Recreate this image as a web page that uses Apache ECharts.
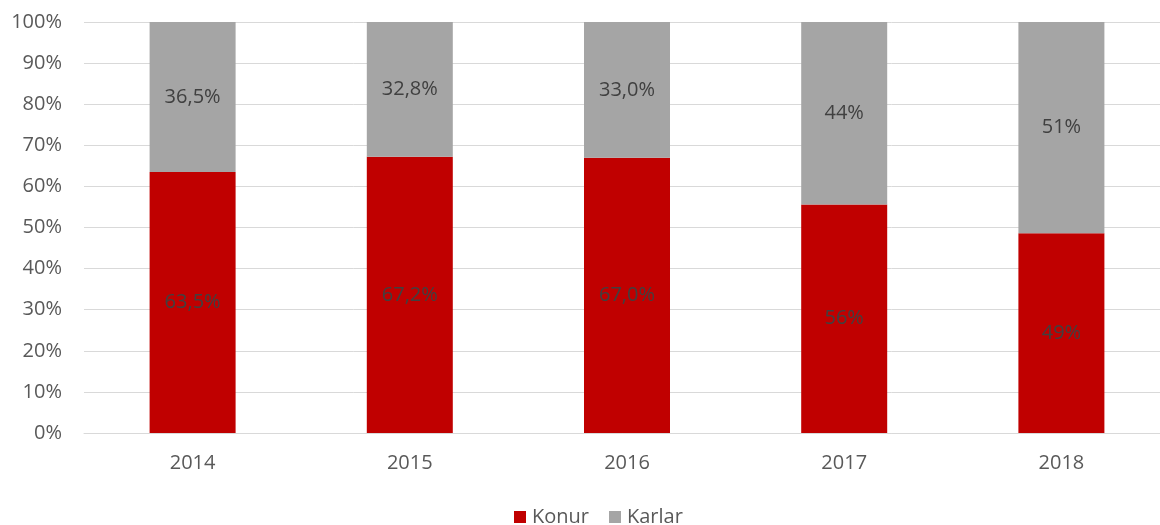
<!DOCTYPE html>
<html>
<head>
<meta charset="utf-8">
<script src="https://cdn.jsdelivr.net/npm/echarts@6/dist/echarts.min.js"></script>
<style>
  html, body { margin: 0; padding: 0; background: #fff; }
  #chart { width: 1160px; height: 525px; }
</style>
</head>
<body>
<div id="chart"></div>
<script>
// data
var years = ['2014', '2015', '2016', '2017', '2018']
var konur = [63.5, 67.2, 67.0, 55.6, 48.6]
var karlar = [36.5, 32.8, 33.0, 44.4, 51.4]
// decimals shown in each year's labels
var labelDecimals = [1, 1, 1, 0, 0]

var myChart = echarts.init(document.getElementById('chart'))

function pct(p) {
  return p.value.toFixed(labelDecimals[p.dataIndex]).replace('.', ',') + '%'
}

var font = '"Open Sans", "Noto Sans", sans-serif'

var option = {
  animation: false,
  textStyle: { fontFamily: font },
  grid: {
    left: 84,
    top: 22,
    width: 1086,
    height: 411,
    containLabel: false,
    outerBoundsMode: 'none'
  },
  legend: {
    top: 502,
    left: 509,
    itemWidth: 12,
    itemHeight: 12,
    itemGap: 20,
    icon: 'rect',
    textStyle: { color: '#595959', fontSize: 20, fontFamily: font, padding: [0, 0, 0, 1] },
    data: ['Konur', 'Karlar']
  },
  xAxis: {
    type: 'category',
    data: years,
    axisLine: { lineStyle: { color: '#d9d9d9' } },
    axisTick: { show: false },
    axisLabel: { color: '#595959', fontSize: 20, margin: 20 }
  },
  yAxis: {
    type: 'value',
    min: 0,
    max: 100,
    interval: 10,
    axisLine: { show: false },
    axisTick: { show: false },
    splitLine: { lineStyle: { color: '#d9d9d9', width: 1 } },
    axisLabel: {
      color: '#595959',
      fontSize: 20,
      margin: 22,
      formatter: '{value}%'
    }
  },
  series: [
    {
      name: 'Konur',
      type: 'bar',
      stack: 'total',
      data: konur,
      barWidth: 86,
      itemStyle: { color: '#c00000' },
      label: {
        show: true,
        position: 'inside',
        color: '#404040',
        fontSize: 20,
        formatter: pct
      }
    },
    {
      name: 'Karlar',
      type: 'bar',
      stack: 'total',
      data: karlar,
      barWidth: 86,
      itemStyle: { color: '#a5a5a5' },
      label: {
        show: true,
        position: 'inside',
        color: '#404040',
        fontSize: 20,
        formatter: pct
      }
    }
  ]
}

myChart.setOption(option)
</script>
</body>
</html>
